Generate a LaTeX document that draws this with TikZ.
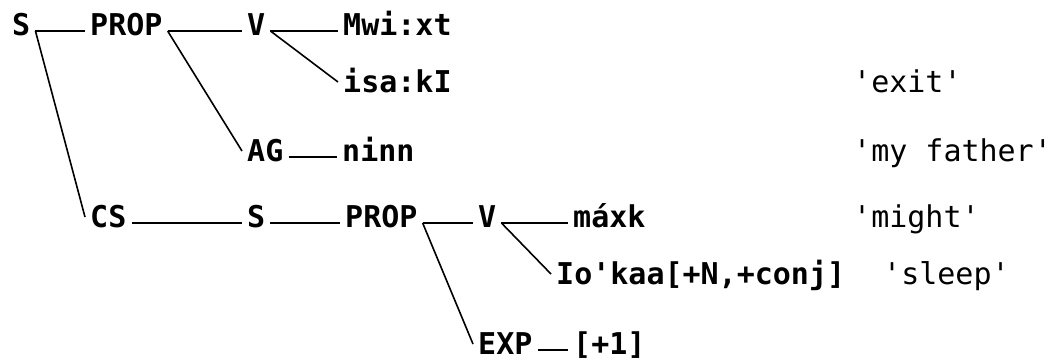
\documentclass[tikz,border=0pt]{standalone}
\usepackage{fontspec}
\setmonofont{DejaVu Sans Mono}
\usetikzlibrary{calc}

\begin{document}
\begin{tikzpicture}[x=1pt,y=-1pt,lab/.style={anchor=base west,inner xsep=5pt,inner ysep=0pt,font=\ttfamily\bfseries\fontsize{30}{36}\selectfont},gloss/.style={anchor=base west,inner sep=0pt,font=\ttfamily\fontsize{30}{36}\selectfont},branch/.style={line width=1.6pt}]
\useasboundingbox (0,0) rectangle (1053,360);
\node[lab] (s) at (7,35){S};\node[lab] (prop) at (85,35){PROP};\node[lab] (v) at (242,35){V};
\node[lab] (mwixt) at (338,35){Mwi:xt};\node[lab] (isak) at (338,92){isa:kI};
\node[lab] (ag) at (242,161){AG};\node[lab] (ninn) at (337,161){ninn};
\node[lab] (cs) at (85,227){CS};\node[lab] (s2) at (242,227){S};\node[lab] (prop2) at (340,227){PROP};
\node[lab] (v2) at (473,227){V};\node[lab] (maxk) at (568,227){máxk};
\node[lab] (iokaa) at (551,284){Io'kaa[+N,+conj]};
\node[lab] (exp) at (473,354){EXP};\node[lab] (plusone) at (568,354){[+1]};
\node[gloss] (exit) at (853,92){'exit'};\node[gloss] (father) at (853,161){'my father'};
\node[gloss] (might) at (853,227){'might'};\node[gloss] (sleep) at (883,284){'sleep'};
\foreach \a/\b in {s/prop,prop/v,v/mwixt,ag/ninn,cs/s2,s2/prop2,prop2/v2,v2/maxk,exp/plusone}{\draw[branch] ([yshift=4pt]\a.base east)--([yshift=4pt]\b.base west);}
\foreach \a/\b in {s/cs,prop/ag,v/isak,prop2/exp,v2/iokaa}{\draw[branch] ([yshift=4pt]\a.base east)--([yshift=10pt]\b.base west);}
\end{tikzpicture}
\end{document}
